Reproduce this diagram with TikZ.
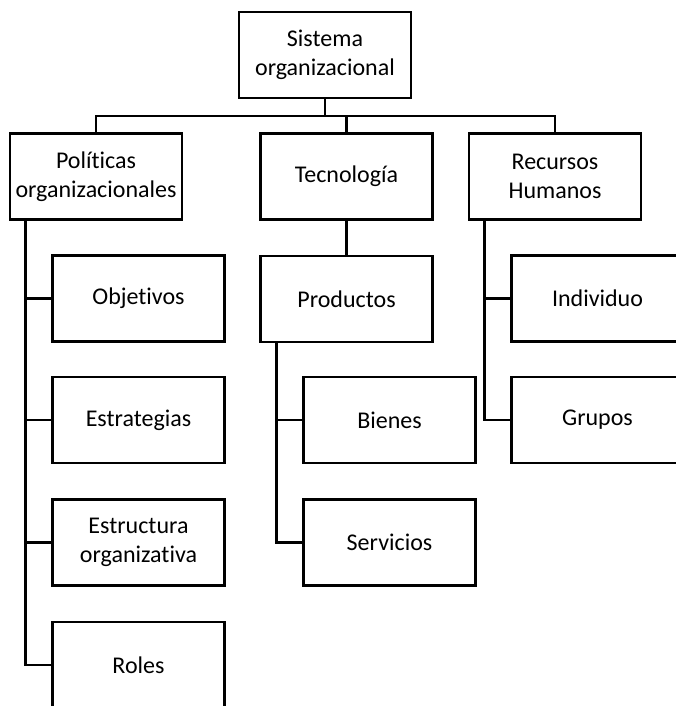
\documentclass[tikz,border=0pt]{standalone}
\usepackage{fontspec}
\setmainfont{Carlito}[Ligatures=NoCommon]
\usepackage{tikz}
\newcommand{\boxfont}{\fontsize{18}{21.5}\selectfont}
\tikzset{
  box/.style={draw=black, line width=2pt, minimum width=129pt, minimum height=64.5pt, inner sep=0pt, align=center, font=\boxfont},
  line/.style={draw=black, line width=2pt}
}
\begin{document}
\begin{tikzpicture}[x=0.75pt, y=-0.75pt]
  \useasboundingbox (0,0) rectangle (675,706);

  \node[box] (root) at (325,55) {Sistema\\organizacional};

  \node[box] (pol) at (96,176.5) {Políticas\\organizacionales};
  \node[box] (tec) at (346.5,176.5) {Tecnología};
  \node[box] (rec) at (555,176.5) {Recursos\\Humanos};

  \node[box] (obj) at (138.5,298.5) {Objetivos};
  \node[box] (est) at (138.5,420) {Estrategias};
  \node[box] (org) at (138.5,542.5) {Estructura\\organizativa};
  \node[box] (rol) at (138.5,665) {Roles};

  \node[box] (prod) at (346.5,299) {Productos};
  \node[box] (bien) at (389.5,420) {Bienes};
  \node[box] (serv) at (389.5,542.5) {Servicios};

  \node[box] (ind) at (597.5,298.5) {Individuo};
  \node[box] (gru) at (597.5,420) {Grupos};

  \coordinate (bus) at (325,116);
  \draw[line] (root.south) -- (bus);
  \draw[line] (pol.north) |- (bus) -| (rec.north);
  \draw[line] (tec.north) -- (tec.north |- bus);
  \draw[line] (tec.south) -- (prod.north);

  \draw[line] ([xshift=12.75pt]pol.south west) |- (rol.west);
  \foreach \n in {obj,est,org}
    \draw[line] ([xshift=12.75pt]pol.south west |- \n.west) -- (\n.west);

  \draw[line] ([xshift=12.75pt]prod.south west) |- (serv.west);
  \draw[line] ([xshift=12.75pt]prod.south west |- bien.west) -- (bien.west);

  \draw[line] ([xshift=12.75pt]rec.south west) |- (gru.west);
  \draw[line] ([xshift=12.75pt]rec.south west |- ind.west) -- (ind.west);
\end{tikzpicture}
\end{document}
